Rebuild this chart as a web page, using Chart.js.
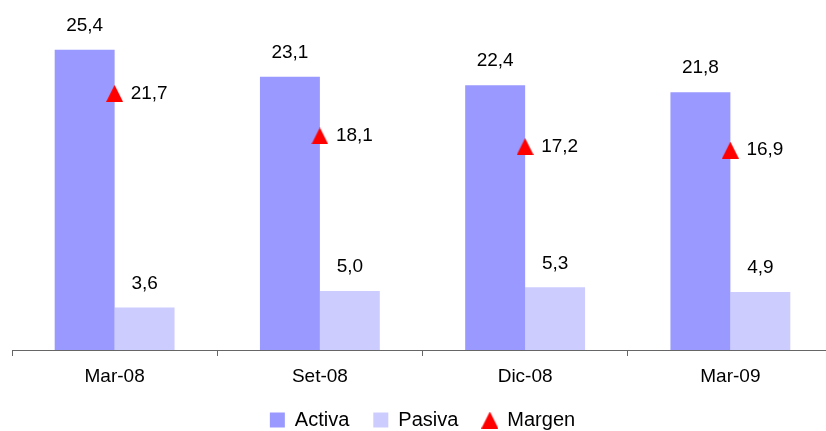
<!DOCTYPE html>
<html>
<head>
<meta charset="utf-8">
<script src="https://cdn.jsdelivr.net/npm/chart.js@4"></script>
<style>
  body { margin: 0; overflow: hidden; background: #fff; }
  #wrap { width: 833px; height: 440px; }
</style>
</head>
<body>
<div id="wrap"><canvas id="myChart"></canvas></div>
<script>
const periods = ["Mar-08", "Set-08", "Dic-08", "Mar-09"];
const activa = [25.4, 23.1, 22.4, 21.8];
const pasiva = [3.6, 5.0, 5.3, 4.9];
const margen = [21.7, 18.1, 17.2, 16.9];

const FONT = "'Liberation Sans', Arial, sans-serif";
const fmt = v => v.toFixed(1).replace('.', ',');

// red triangle marker, centred on its box like the original
const tri = document.createElement('canvas');
tri.width = 17;
tri.height = 17;
const tctx = tri.getContext('2d');
tctx.fillStyle = '#FF0000';
tctx.beginPath();
tctx.moveTo(8.5, 0);
tctx.lineTo(17, 17);
tctx.lineTo(0, 17);
tctx.closePath();
tctx.fill();

// draws the value labels next to bars and triangles
const valueLabels = {
    id: 'valueLabels',
    afterDatasetsDraw(chart) {
        const ctx = chart.ctx;
        ctx.save();
        ctx.font = '19px ' + FONT;
        ctx.fillStyle = '#000';
        ctx.textBaseline = 'middle';
        chart.data.datasets.forEach((ds, i) => {
            const meta = chart.getDatasetMeta(i);
            meta.data.forEach((el, j) => {
                const txt = fmt(ds.data[j]);
                if (ds.type === 'line') {
                    ctx.textAlign = 'left';
                    ctx.fillText(txt, el.x + 16, el.y);
                } else {
                    ctx.textAlign = 'center';
                    ctx.fillText(txt, el.x, el.y - 24);
                }
            });
        });
        ctx.restore();
    }
};

const ctx = document.getElementById('myChart');

new Chart(ctx, {
    type: 'bar',
    data: {
        labels: periods,
        datasets: [
            {
                label: 'Activa',
                data: activa,
                backgroundColor: '#9999FF',
                borderColor: '#9999FF',
                borderWidth: 0,
                pointStyle: 'rect',
                order: 1
            },
            {
                label: 'Pasiva',
                data: pasiva,
                backgroundColor: '#CCCCFF',
                borderColor: '#CCCCFF',
                borderWidth: 0,
                pointStyle: 'rect',
                order: 1
            },
            {
                type: 'line',
                label: 'Margen',
                data: margen,
                showLine: false,
                pointStyle: tri,
                pointRadius: 9,
                pointHoverRadius: 9,
                backgroundColor: '#FF0000',
                borderColor: '#FF0000',
                pointBackgroundColor: '#FF0000',
                pointBorderColor: '#FF0000',
                pointBorderWidth: 0,
                order: 0
            }
        ]
    },
    options: {
        responsive: true,
        maintainAspectRatio: false,
        animation: false,
        layout: { autoPadding: false, padding: { left: 12, right: 0, top: 0, bottom: 0 } },
        datasets: {
            bar: { categoryPercentage: 0.584, barPercentage: 1 }
        },
        scales: {
            x: {
                grid: {
                    display: true,
                    drawOnChartArea: false,
                    drawTicks: true,
                    tickLength: 6,
                    color: '#666'
                },
                border: { display: true, color: '#666', width: 1 },
                ticks: {
                    color: '#000',
                    font: { family: FONT, size: 19, lineHeight: 1 },
                    padding: 11
                },
                afterFit: scale => { scale.height = 36; }
            },
            y: {
                display: false,
                min: 0,
                max: 29.6
            }
        },
        plugins: {
            legend: {
                position: 'bottom',
                labels: {
                    usePointStyle: true,
                    boxWidth: 15,
                    boxHeight: 15,
                    padding: 24,
                    color: '#000',
                    font: { family: FONT, size: 20 },
                    sort: (a, b) => a.datasetIndex - b.datasetIndex
                }
            },
            tooltip: { enabled: false }
        }
    },
    plugins: [valueLabels]
});
</script>
</body>
</html>
